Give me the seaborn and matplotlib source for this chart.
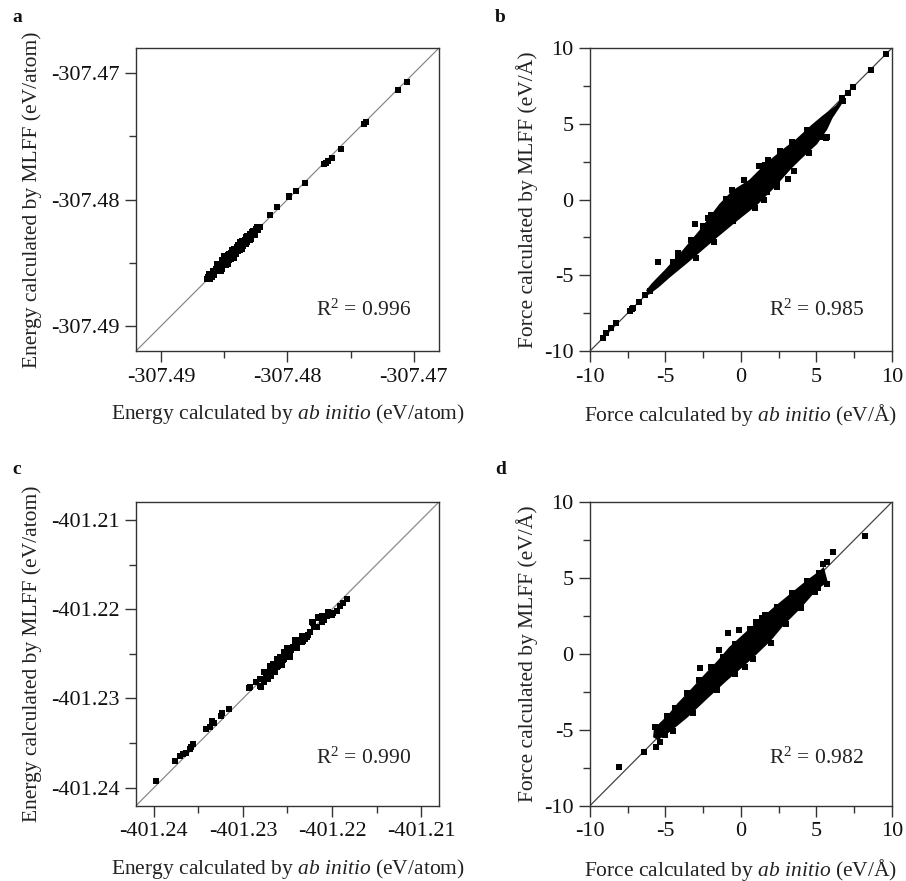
import numpy as np
import pandas as pd
import matplotlib
matplotlib.use('Agg')
import matplotlib.pyplot as plt
import seaborn as sns
from matplotlib.ticker import FixedLocator, FixedFormatter

sns.set_theme(style='ticks')
plt.rcParams['font.family'] = ['Liberation Serif', 'DejaVu Serif']
plt.rcParams['mathtext.fontset'] = 'custom'
plt.rcParams['mathtext.rm'] = 'Liberation Serif'
plt.rcParams['mathtext.it'] = 'Liberation Serif:italic'
plt.rcParams['axes.unicode_minus'] = False

# ---------------- Panel a: energy (eV/atom) ----------------
a_abinitio = [-307.4864, -307.4862, -307.4861, -307.4859, -307.4858, -307.4856, -307.4855,
              -307.4853, -307.4852, -307.4850, -307.4849, -307.4847, -307.4846, -307.4845,
              -307.4843, -307.4842, -307.4841, -307.4839, -307.4838, -307.4836, -307.4835,
              -307.4833, -307.4832, -307.4830, -307.4829, -307.4827, -307.4826, -307.4824,
              -307.4822, -307.4823,
              -307.4863, -307.4860, -307.4857, -307.4854, -307.4851, -307.4848, -307.4844,
              -307.4840, -307.4837, -307.4834, -307.4831, -307.4828, -307.4825, -307.4849,
              -307.4845, -307.4839, -307.4833,
              -307.4856, -307.4853, -307.4850, -307.4847, -307.4844, -307.4842, -307.4838,
              -307.4836, -307.4832, -307.4830, -307.4852, -307.4846,
              -307.48137, -307.48084, -307.47984, -307.47990, -307.47931, -307.47860,
              -307.47714, -307.47695, -307.47677, -307.47645, -307.47576, -307.47397,
              -307.47378, -307.47127, -307.47052]
a_mlff = [-307.4863, -307.4859, -307.4863, -307.4857, -307.4860, -307.4853, -307.4857,
          -307.4851, -307.4855, -307.4847, -307.4852, -307.4844, -307.4848, -307.4842,
          -307.4846, -307.4839, -307.4843, -307.4836, -307.4840, -307.4833, -307.4837,
          -307.4830, -307.4834, -307.4827, -307.4831, -307.4825, -307.4828, -307.4822,
          -307.4822, -307.4824,
          -307.4861, -307.4861, -307.4855, -307.4854, -307.4850, -307.4849, -307.4844,
          -307.4838, -307.4835, -307.4832, -307.4829, -307.4826, -307.4823, -307.4846,
          -307.4847, -307.4841, -307.4835,
          -307.4851, -307.4857, -307.4845, -307.4851, -307.4840, -307.4846, -307.4834,
          -307.4839, -307.4829, -307.4832, -307.4848, -307.4843,
          -307.48122, -307.48063, -307.47984, -307.47972, -307.47929, -307.47868,
          -307.47720, -307.47708, -307.47696, -307.47672, -307.47601, -307.47402,
          -307.47387, -307.47130, -307.47071]
a_ticks = [-307.49, -307.48, -307.47]
a_ticklabels = ['-307.49', '-307.48', '-307.47']
a_lim = [-307.492, -307.468]
a_r2 = 'R$^2$ = 0.996'

# ---------------- Panel b: force (eV/A) ----------------
b_abinitio = [-9.16, -8.94, -8.63, -8.28, -7.37, -7.24, -7.15, -6.73, -6.36, -6.03,
              -5.52, -4.48, -4.15, -3.05, -2.17, -2.00,
              1.70, 1.59, 1.81, 2.40, 3.13, 4.75, 5.52, 5.67, 5.62,
              6.67, 6.77, 7.07, 7.44, 8.61, 9.60,
              -4.2, -3.3, -2.5, -1.9, -1.0, -0.6, 0.2, 1.2, 2.6, 3.4, 4.4,
              0.9, 1.5, 2.4, 3.5, 4.5, 5.3, -0.5, -1.8, -3.0]
b_mlff = [-9.16, -8.83, -8.50, -8.13, -7.34, -7.25, -7.18, -6.75, -6.30, -6.02,
          -4.10, -4.10, -3.55, -1.62, -1.24, -1.02,
          0.49, 2.30, 2.63, 1.02, 1.37, 3.84, 4.90, 4.11, 4.03,
          6.70, 6.48, 7.03, 7.41, 8.53, 9.63,
          -3.7, -2.7, -1.75, -1.15, 0.05, 0.6, 1.3, 2.2, 3.2, 3.8, 4.6,
          -0.55, 0.0, 0.8, 1.85, 3.05, 4.1, -1.45, -2.8, -3.85]
# outline of the dense cloud of points (upper edge left->right, lower edge right->left)
b_cloud_x = [-6.2, -5.83, -4.95, -3.82, -2.72, -1.39, -0.51, 0.60, 1.70, 2.80, 3.69,
             4.77, 5.43, 6.31, 6.60,
             6.60, 6.00, 5.65, 4.99, 3.91, 3.25, 2.14, 1.04, -0.28, -1.61, -2.72,
             -3.60, -4.70, -5.50, -6.10]
b_cloud_y = [-6.0, -5.55, -4.65, -3.40, -2.10, -0.35, 0.55, 1.25, 2.35, 3.25, 3.93,
             4.92, 5.47, 6.13, 6.50,
             6.30, 5.40, 4.65, 3.70, 2.70, 2.05, 0.80, -0.30, -1.35, -2.45, -3.40,
             -4.15, -5.05, -5.75, -6.20]
f_ticks = [-10, -5, 0, 5, 10]
f_ticklabels = ['-10', '-5', '0', '5', '10']
f_lim = [-10, 10]
b_r2 = 'R$^2$ = 0.985'

# ---------------- Panel c: energy (eV/atom) ----------------
c_abinitio = [-401.23981, -401.23759, -401.23711, -401.23674, -401.23636, -401.23598,
              -401.23579, -401.23561, -401.23411, -401.23373, -401.23328, -401.23343,
              -401.23242, -401.23231, -401.23160, -401.22931, -401.22924, -401.22848,
              -401.22803, -401.22792, -401.22811,
              -401.22736, -401.22760, -401.22699, -401.22720, -401.22661, -401.22690,
              -401.22623, -401.22650, -401.22586, -401.22610, -401.22549, -401.22575,
              -401.22511, -401.22540, -401.22474, -401.22500, -401.22436, -401.22460,
              -401.22398, -401.22420, -401.22361, -401.22330, -401.22286, -401.22249,
              -401.22229, -401.22211, -401.22173, -401.22117, -401.22117, -401.22090,
              -401.21986, -401.21948, -401.21911, -401.21874, -401.21836,
              -401.22745, -401.22710, -401.22680, -401.22650, -401.22630, -401.22600,
              -401.22560, -401.22530, -401.22490, -401.22450, -401.22420, -401.22380,
              -401.22340, -401.22300, -401.22700, -401.22660, -401.22590, -401.22520,
              -401.22480, -401.22720, -401.22680, -401.22150, -401.22060,
              -401.22700, -401.22640, -401.22580, -401.22560, -401.22500, -401.22470,
              -401.22420, -401.22390, -401.22620, -401.22540, -401.22760, -401.22340,
              -401.22270, -401.22200, -401.22160, -401.22040, -401.22000]
c_mlff = [-401.23922, -401.23698, -401.23642, -401.23626, -401.23608, -401.23570,
          -401.23541, -401.23511, -401.23346, -401.23317, -401.23272, -401.23249,
          -401.23196, -401.23159, -401.23118, -401.22879, -401.22874, -401.22811,
          -401.22785, -401.22874, -401.22855,
          -401.22773, -401.22810, -401.22717, -401.22760, -401.22680, -401.22720,
          -401.22643, -401.22675, -401.22605, -401.22640, -401.22568, -401.22600,
          -401.22512, -401.22560, -401.22475, -401.22510, -401.22419, -401.22455,
          -401.22380, -401.22420, -401.22343, -401.22360, -401.22306, -401.22250,
          -401.22149, -401.22156, -401.22194, -401.22138, -401.22074, -401.22120,
          -401.22044, -401.22015, -401.21962, -401.21932, -401.21887,
          -401.22745, -401.22740, -401.22700, -401.22640, -401.22610, -401.22580,
          -401.22540, -401.22530, -401.22470, -401.22440, -401.22390, -401.22360,
          -401.22370, -401.22330, -401.22670, -401.22610, -401.22610, -401.22490,
          -401.22520, -401.22780, -401.22750, -401.22100, -401.22080,
          -401.22640, -401.22700, -401.22530, -401.22620, -401.22440, -401.22540,
          -401.22350, -401.22440, -401.22560, -401.22480, -401.22700, -401.22300,
          -401.22290, -401.22200, -401.22090, -401.22030, -401.22070]
c_ticks = [-401.24, -401.23, -401.22, -401.21]
c_ticklabels = ['-401.24', '-401.23', '-401.22', '-401.21']
c_lim = [-401.242, -401.208]
c_r2 = 'R$^2$ = 0.990'

# ---------------- Panel d: force (eV/A) ----------------
d_abinitio = [-8.06, -6.40, -5.63, -5.36, -5.70, -4.88, -4.53, -2.74, -1.46, -0.86,
              -0.13, 0.24, 1.01, 1.59, 5.10, 5.71, 5.45, 5.71, 6.07, 8.21,
              -4.4, -3.6, -2.8, -2.0, -1.2, -0.4, 0.6, 1.4, 2.4, 3.4, 4.4, 5.2,
              -5.0, -3.2, -1.6, -0.4, 0.8, 2.0, 3.0, 4.0, 4.9]
d_mlff = [-7.43, -6.48, -6.11, -5.78, -4.81, -4.09, -5.06, -0.94, 0.22, 1.40,
          1.54, -0.84, 2.11, 2.55, 4.33, 4.63, 5.89, 6.06, 6.72, 7.76,
          -3.6, -2.6, -1.7, -0.9, -0.2, 0.65, 1.65, 2.35, 3.1, 4.0, 4.8, 5.3,
          -5.35, -3.9, -2.35, -1.3, -0.35, 0.7, 1.95, 3.05, 4.1]
d_cloud_x = [-5.75, -5.70, -4.81, -4.15, -3.38, -2.27, -1.50, -0.73, 0.60, 2.14, 3.24,
             4.35, 5.23, 5.45,
             5.67, 5.01, 3.91, 2.80, 1.92, 0.82, -0.08, -0.96, -2.27, -3.60, -4.70, -5.50]
d_cloud_y = [-5.45, -4.95, -4.10, -3.30, -2.50, -1.30, -0.50, 0.40, 1.60, 2.95, 3.85,
             4.75, 5.40, 5.60,
             4.75, 4.30, 3.05, 1.95, 0.90, -0.15, -0.95, -1.70, -2.90, -4.15, -5.05, -5.60]
d_r2 = 'R$^2$ = 0.982'

e_xlabel = 'Energy calculated by $\\mathit{ab\\ initio}$ (eV/atom)'
e_ylabel = 'Energy calculated by MLFF (eV/atom)'
f_xlabel = 'Force calculated by $\\mathit{ab\\ initio}$ (eV/Å)'
f_ylabel = 'Force calculated by MLFF (eV/Å)'

TFS = 16
LFS = 15.5

fig = plt.figure(figsize=(9.06, 8.81), dpi=100)
positions = {
    'a': [0.1501, 0.6016, 0.3344, 0.3439],
    'b': [0.6512, 0.6016, 0.3333, 0.3439],
    'c': [0.1501, 0.0855, 0.3344, 0.3447],
    'd': [0.6512, 0.0855, 0.3333, 0.3447],
}


def style_axes(ax, lim, ticks, ticklabels, xlabel, ylabel, ylabelpad):
    ax.set_xlim(lim)
    ax.set_ylim(lim)
    minors = [(ticks[i] + ticks[i + 1]) / 2 for i in range(len(ticks) - 1)]
    for axis in (ax.xaxis, ax.yaxis):
        axis.set_major_locator(FixedLocator(ticks))
        axis.set_major_formatter(FixedFormatter(ticklabels))
        axis.set_minor_locator(FixedLocator(minors))
    ax.tick_params(which='major', direction='out', length=8, width=1.0, color='#333333',
                   labelsize=TFS, pad=4, top=False, right=False, labelcolor='#111111')
    ax.tick_params(which='minor', direction='out', length=5, width=1.0, color='#333333',
                   top=False, right=False)
    for sp in ax.spines.values():
        sp.set_visible(True)
        sp.set_color('#333333')
        sp.set_linewidth(1.0)
    ax.set_xlabel(xlabel, fontsize=LFS, labelpad=11, color='#222222')
    ax.set_ylabel(ylabel, fontsize=LFS, labelpad=ylabelpad, color='#222222')


def panel(key, xs, ys, lim, ticks, ticklabels, xlabel, ylabel, r2, r2y, linecolor,
          cloud=None, ylabelpad=5):
    ax = fig.add_axes(positions[key])
    ax.plot(lim, lim, color=linecolor, lw=0.9, zorder=1)
    if cloud is not None:
        ax.fill(cloud[0], cloud[1], facecolor='black', edgecolor='black', lw=1.5, zorder=2)
    df = pd.DataFrame({'ab initio': xs, 'MLFF': ys})
    sns.scatterplot(data=df, x='ab initio', y='MLFF', ax=ax, marker='s', s=16,
                    color='black', linewidth=0, legend=False, zorder=3)
    style_axes(ax, lim, ticks, ticklabels, xlabel, ylabel, ylabelpad)
    ax.text(0.75, r2y, r2, transform=ax.transAxes, fontsize=LFS, ha='center', va='center',
            color='#222222')
    return ax


panel('a', a_abinitio, a_mlff, a_lim, a_ticks, a_ticklabels, e_xlabel, e_ylabel,
      a_r2, 0.135, '#8a8a8a', ylabelpad=6)
panel('b', b_abinitio, b_mlff, f_lim, f_ticks, f_ticklabels, f_xlabel, f_ylabel,
      b_r2, 0.135, '#444444', cloud=(b_cloud_x, b_cloud_y), ylabelpad=4)
panel('c', c_abinitio, c_mlff, c_lim, c_ticks, c_ticklabels, e_xlabel, e_ylabel,
      c_r2, 0.157, '#8a8a8a', ylabelpad=6)
panel('d', d_abinitio, d_mlff, f_lim, f_ticks, f_ticklabels, f_xlabel, f_ylabel,
      d_r2, 0.157, '#444444', cloud=(d_cloud_x, d_cloud_y), ylabelpad=4)

for lab, (x, y) in {'a': (12, 22), 'b': (495, 22), 'c': (12, 474), 'd': (495, 474)}.items():
    fig.text(x / 906, 1 - y / 881, lab, fontsize=14, fontweight='bold', ha='left',
             va='baseline', color='#111111')

fig.savefig('out.png', dpi=100)
